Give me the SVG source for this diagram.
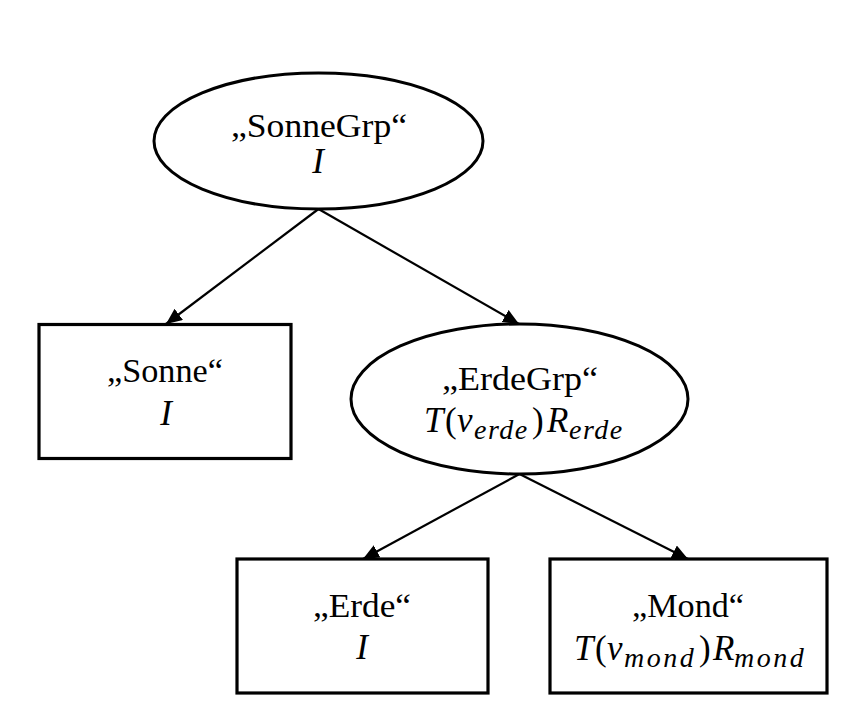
<svg xmlns="http://www.w3.org/2000/svg" width="859" height="728" viewBox="0 0 859 728">
<style>
.shape{fill:#fff;stroke:#000}
.ell{stroke-width:3}
.box{stroke-width:3.2}
.lbl{font-family:"Liberation Serif","Times New Roman",serif;font-size:34px;fill:#000;text-anchor:middle}
.m{font-family:"Liberation Serif","Times New Roman",serif;font-style:italic;font-size:35px;fill:#000}
.mr{font-style:normal}
.sub{font-size:28px;letter-spacing:1.5px}
.sub2{font-size:28px;letter-spacing:2.5px}
.edge{stroke:#000;stroke-width:2.2;fill:none;marker-end:url(#ah)}
</style>
<defs>
<marker id="ah" markerUnits="userSpaceOnUse" markerWidth="18" markerHeight="16" refX="16" refY="7" orient="auto">
<path d="M0,0 L16,7 L0,14 z" fill="#000"/>
</marker>
</defs>
<rect width="859" height="728" fill="#fff"/>
<g id="SonneGrp">
<ellipse class="shape ell" cx="318.5" cy="141" rx="164.5" ry="68"/>
<text class="lbl" x="319" y="137" textLength="176" lengthAdjust="spacingAndGlyphs">„SonneGrp“</text>
<text class="m" x="318" y="173" text-anchor="middle">I</text>
</g>
<g id="Sonne">
<rect class="shape box" x="39" y="324.5" width="252" height="134"/>
<text class="lbl" x="165" y="382" textLength="116" lengthAdjust="spacingAndGlyphs">„Sonne“</text>
<text class="m" x="166" y="425" text-anchor="middle">I</text>
</g>
<g id="ErdeGrp">
<ellipse class="shape ell" cx="519.5" cy="399" rx="168.5" ry="75"/>
<text class="lbl" x="520" y="390" textLength="156" lengthAdjust="spacingAndGlyphs">„ErdeGrp“</text>
<text class="m" y="432"><tspan x="424">T</tspan><tspan class="mr" x="445">(</tspan><tspan x="457">v</tspan><tspan class="sub" x="474" y="439">erde</tspan><tspan class="mr" x="532" y="432">)</tspan><tspan x="547">R</tspan><tspan class="sub" x="569" y="439">erde</tspan></text>
</g>
<g id="Erde">
<rect class="shape box" x="237" y="559" width="251" height="134"/>
<text class="lbl" x="362" y="617" textLength="98" lengthAdjust="spacingAndGlyphs">„Erde“</text>
<text class="m" x="362" y="659" text-anchor="middle">I</text>
</g>
<g id="Mond">
<rect class="shape box" x="550" y="559" width="277" height="134"/>
<text class="lbl" x="688" y="617" textLength="112" lengthAdjust="spacingAndGlyphs">„Mond“</text>
<text class="m" y="660"><tspan x="574">T</tspan><tspan class="mr" x="595">(</tspan><tspan x="607">v</tspan><tspan class="sub2" x="624" y="667">mond</tspan><tspan class="mr" x="699" y="660">)</tspan><tspan x="713">R</tspan><tspan class="sub2" x="734" y="667">mond</tspan></text>
</g>
<g id="connectors">
<line class="edge" x1="318.5" y1="209" x2="166" y2="324"/>
<line class="edge" x1="318.5" y1="209" x2="519" y2="324"/>
<line class="edge" x1="519.5" y1="474" x2="363" y2="559"/>
<line class="edge" x1="519.5" y1="474" x2="688" y2="559"/>
</g>
</svg>
